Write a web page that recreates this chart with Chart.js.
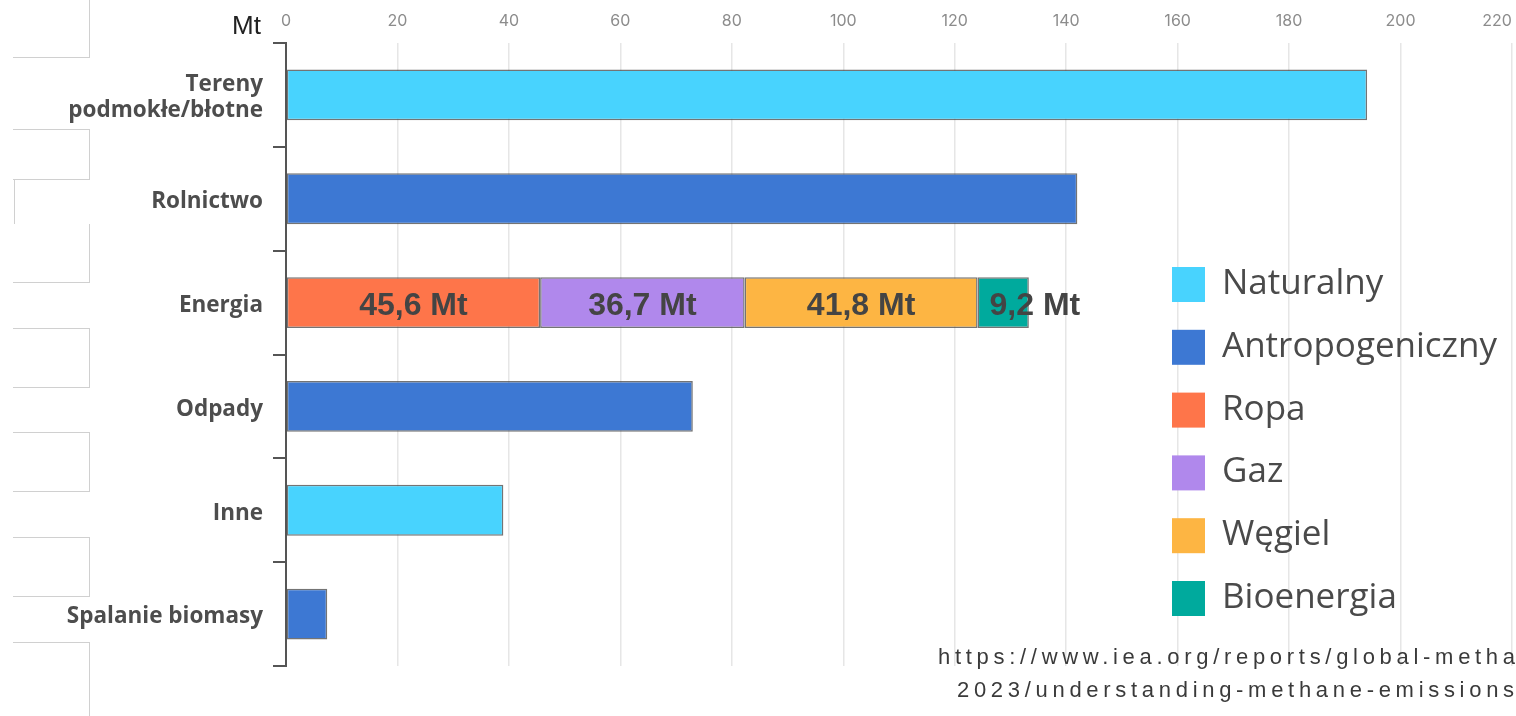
<!DOCTYPE html>
<html>
<head>
<meta charset="utf-8">
<title>Emisje metanu</title>
<script src="https://cdn.jsdelivr.net/npm/chart.js@4.4.1/dist/chart.umd.min.js"></script>
<style>
  html, body { margin: 0; padding: 0; background: #fff; overflow: hidden; }
  #wrap { position: relative; width: 1516px; height: 716px; }
  canvas { position: absolute; left: 0; top: 0; }
  .box { position: absolute; left: 13px; width: 76px; border: 1px solid #d0d0d0; border-left: none; }
  .src { position: absolute; font: 22px "Liberation Sans", Arial, sans-serif; letter-spacing: 4.7px; color: #3a3a3a; white-space: nowrap; }
</style>
</head>
<body>
<div id="wrap">
  <div class="box" style="top:-2px;height:58px"></div>
  <div class="box" style="top:129px;height:49px"></div>
  <div class="box" style="top:179px;height:44px;left:14px;width:75px;border-left:1px solid #d0d0d0;border-right:none;border-bottom:none"></div>
  <div class="box" style="top:224px;height:58px;border-top:none"></div>
  <div class="box" style="top:328px;height:58px"></div>
  <div class="box" style="top:432px;height:58px"></div>
  <div class="box" style="top:537px;height:58px"></div>
  <div class="box" style="top:642px;height:80px"></div>
  <canvas id="chart" width="1516" height="716"></canvas>
  <div class="src" style="left:938px;top:644px">https://www.iea.org/reports/global-methane-tracker-</div>
  <div class="src" style="left:957px;top:677px">2023/understanding-methane-emissions</div>
</div>
<script>
// kategorie i wartości (Mt metanu rocznie)
var categories = [["Tereny", "podmokłe/błotne"], "Rolnictwo", "Energia", "Odpady", "Inne", "Spalanie biomasy"];
var naturalny       = [194, null, null, null, 39, null];
var antropogeniczny = [null, 142, null, 73, null, 7.4];
var ropa            = [null, null, 45.6, null, null, null];
var gaz             = [null, null, 36.7, null, null, null];
var wegiel          = [null, null, 41.8, null, null, null];
var bioenergia      = [null, null, 9.2, null, null, null];
var xTicks = [0, 20, 40, 60, 80, 100, 120, 140, 160, 180, 200, 220];

function ds(label, data, color, showValue) {
  return {
    label: label,
    data: data,
    backgroundColor: color,
    borderColor: "rgba(70,70,70,0.75)",
    borderWidth: 1.5,
    borderSkipped: false,
    showValue: showValue,
    categoryPercentage: 1,
    barPercentage: 0.49
  };
}

// osie u góry, etykiety wartości i legenda rysowane ręcznie
var extras = {
  id: "extras",
  afterDraw: function(chart) {
    var ctx = chart.ctx;
    var x = chart.scales.x;
    ctx.save();

    ctx.fillStyle = "#8c8c8c";
    ctx.font = "16px Inter, Lato, sans-serif";
    ctx.textAlign = "center";
    ctx.textBaseline = "middle";
    xTicks.forEach(function(t, i) {
      var px = x.getPixelForValue(t);
      if (i === xTicks.length - 1) px -= 15;
      ctx.fillText(String(t), px, 21);
    });

    ctx.fillStyle = "#222";
    ctx.font = "26px 'Liberation Sans', Arial, sans-serif";
    ctx.textAlign = "right";
    ctx.fillText("Mt", 261, 27);

    // wartości na segmentach Energii
    ctx.fillStyle = "#444";
    ctx.font = "bold 32px 'Liberation Sans', Arial, sans-serif";
    ctx.textAlign = "center";
    chart.data.datasets.forEach(function(d, i) {
      if (!d.showValue) return;
      chart.getDatasetMeta(i).data.forEach(function(bar, j) {
        var v = d.data[j];
        if (v == null) return;
        var txt = v.toFixed(1).replace(".", ",") + " Mt";
        var w = ctx.measureText(txt).width;
        var l = bar.base, r = bar.x;
        var cx = w < r - l - 10 ? (l + r) / 2 : l + 12 + w / 2;
        ctx.fillText(txt, cx, bar.y + 4);
      });
    });

    // legenda
    ctx.font = "35px 'Open Sans', sans-serif";
    ctx.textAlign = "left";
    chart.data.datasets.forEach(function(d, i) {
      var yc = 284 + i * 62.8;
      ctx.fillStyle = d.backgroundColor;
      ctx.fillRect(1172, yc - 17, 33, 35);
      ctx.fillStyle = "#4a4a4a";
      ctx.fillText(d.label, 1222, yc);
    });
    ctx.restore();
  }
};

new Chart("chart", {
  type: "bar",
  data: {
    labels: categories,
    datasets: [
      ds("Naturalny", naturalny, "#48d3fe", false),
      ds("Antropogeniczny", antropogeniczny, "#3d78d3", false),
      ds("Ropa", ropa, "#fe754a", true),
      ds("Gaz", gaz, "#b088ec", true),
      ds("Węgiel", wegiel, "#fdb543", true),
      ds("Bioenergia", bioenergia, "#00aa9d", true)
    ]
  },
  options: {
    indexAxis: "y",
    responsive: false,
    animation: false,
    layout: { autoPadding: false, padding: { top: 0, right: 4, bottom: 50, left: 0 } },
    plugins: { legend: { display: false }, tooltip: { enabled: false } },
    scales: {
      x: {
        position: "top",
        stacked: true,
        min: 0,
        max: 220,
        ticks: { display: false, stepSize: 20 },
        grid: { color: "#e6e6e6", lineWidth: 1.5, drawTicks: false },
        border: { display: false },
        afterFit: function(s) { s.height = 43; }
      },
      y: {
        stacked: true,
        grid: { drawOnChartArea: false, color: "#555", lineWidth: 2, tickLength: 13 },
        border: { color: "#555", width: 2 },
        ticks: {
          color: "#4d4d4d",
          padding: 10,
          labelOffset: 3,
          font: { family: "'Open Sans', sans-serif", size: 22.5, weight: "bold", lineHeight: 1.15 }
        },
        afterFit: function(s) { s.width = 286; }
      }
    }
  },
  plugins: [extras]
});
</script>
</body>
</html>
